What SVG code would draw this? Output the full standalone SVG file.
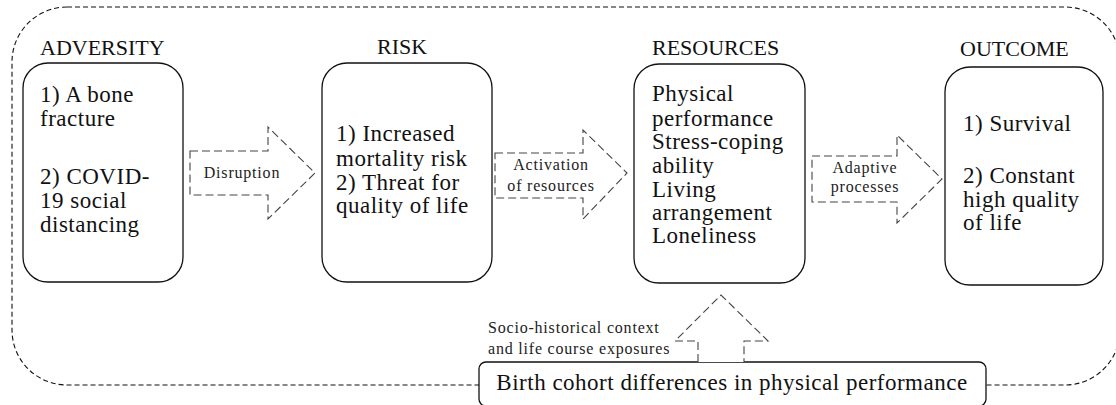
<svg xmlns="http://www.w3.org/2000/svg" width="1116" height="405" viewBox="0 0 1116 405">
  <style>
    .frame { fill: none; stroke: #111; stroke-width: 1.1; stroke-dasharray: 5 3; }
    .box { fill: #fff; stroke: #111; stroke-width: 1.3; }
    .arrow { fill: #fff; stroke: #444; stroke-width: 1.1; stroke-dasharray: 8 4; stroke-linejoin: miter; }
    .head { font-family: "Liberation Serif", "Times New Roman", serif; font-size: 22px; fill: #111; }
    .body { font-family: "Liberation Serif", "Times New Roman", serif; font-size: 23px; letter-spacing: 0.5px; fill: #111; }
    .small { font-family: "Liberation Serif", "Times New Roman", serif; font-size: 16px; letter-spacing: 0.8px; fill: #222; }
  </style>

  <rect width="1116" height="405" fill="#fff"/>

  <!-- dashed frame around the whole model -->
  <rect class="frame" x="12" y="7" width="1108" height="378" rx="55" ry="55"/>

  <g id="adversity">
    <text class="head" x="40" y="55">ADVERSITY</text>
    <rect class="box" x="23" y="63" width="160" height="219" rx="25" ry="25"/>
    <text class="body" x="40" y="102">1) A bone</text>
    <text class="body" x="40" y="126">fracture</text>
    <text class="body" x="40" y="184">2) COVID-</text>
    <text class="body" x="40" y="208">19 social</text>
    <text class="body" x="40" y="232">distancing</text>
  </g>

  <g id="risk">
    <text class="head" x="377" y="54">RISK</text>
    <rect class="box" x="322" y="63" width="170" height="219" rx="25" ry="25"/>
    <text class="body" x="336" y="141">1) Increased</text>
    <text class="body" x="336" y="166">mortality risk</text>
    <text class="body" x="336" y="190">2) Threat for</text>
    <text class="body" x="336" y="213">quality of life</text>
  </g>

  <g id="resources">
    <text class="head" x="652" y="55">RESOURCES</text>
    <rect class="box" x="634" y="64" width="171" height="219" rx="25" ry="25"/>
    <text class="body" x="652" y="101">Physical</text>
    <text class="body" x="652" y="126">performance</text>
    <text class="body" x="652" y="149">Stress-coping</text>
    <text class="body" x="652" y="173">ability</text>
    <text class="body" x="652" y="197">Living</text>
    <text class="body" x="652" y="220">arrangement</text>
    <text class="body" x="652" y="243">Loneliness</text>
  </g>

  <g id="outcome">
    <text class="head" x="960" y="56">OUTCOME</text>
    <rect class="box" x="945" y="67" width="158" height="218" rx="25" ry="25"/>
    <text class="body" x="963" y="131">1) Survival</text>
    <text class="body" x="963" y="183">2) Constant</text>
    <text class="body" x="963" y="207">high quality</text>
    <text class="body" x="963" y="230">of life</text>
  </g>

  <g id="cohort">
    <rect class="box" x="479" y="362" width="507" height="44" rx="7" ry="7"/>
    <text class="body" x="732" y="390" text-anchor="middle">Birth cohort differences in physical performance</text>
  </g>

  <!-- block arrows between stages -->
  <g id="connectors">
    <path class="arrow" d="M190,151 H268 V127 L315,173 L268,219 V195 H190 Z"/>
    <text class="small" x="242" y="178" text-anchor="middle">Disruption</text>

    <path class="arrow" d="M495,153 H583 V130 L627,173 L583,219 V198 H495 Z"/>
    <text class="small" x="551" y="170" text-anchor="middle">Activation</text>
    <text class="small" x="551" y="191" text-anchor="middle">of resources</text>

    <path class="arrow" d="M812,156 H897 V135 L942,179 L897,223 V202 H812 Z"/>
    <text class="small" x="865" y="173" text-anchor="middle">Adaptive</text>
    <text class="small" x="865" y="192" text-anchor="middle">processes</text>

    <path class="arrow" d="M698,362 V341 H675 L721,295 L768,341 H744 V362"/>
    <text class="small" x="488" y="333">Socio-historical context</text>
    <text class="small" x="488" y="354">and life course exposures</text>
  </g>
</svg>
